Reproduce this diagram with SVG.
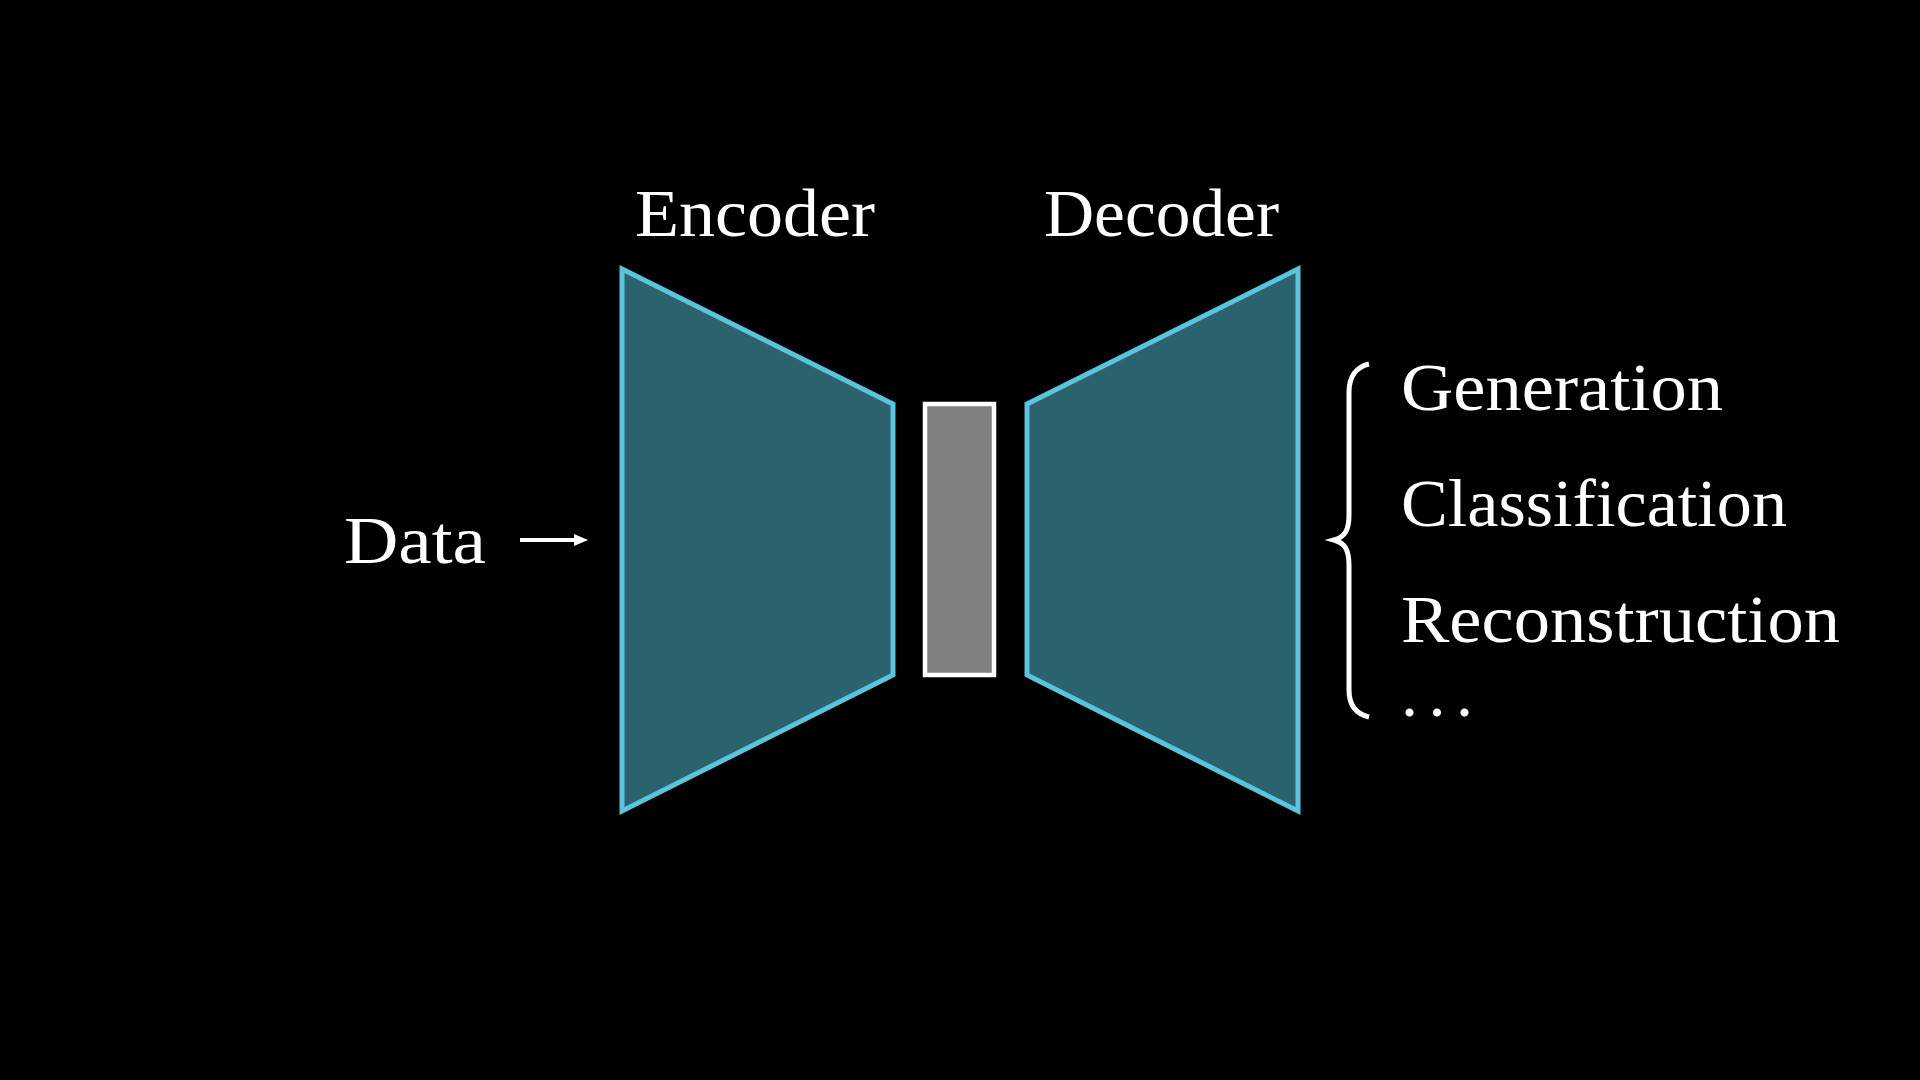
<svg xmlns="http://www.w3.org/2000/svg" width="1920" height="1080" viewBox="0 0 1920 1080">
  <defs>
    <style>
      .lbl { font-family: "Liberation Serif", "DejaVu Serif", serif; fill: #ffffff; font-size: 68px; }
      .trap { fill: #2c626e; stroke: #58c4dd; stroke-width: 5; stroke-linejoin: miter; }
      .latent { fill: #808080; stroke: #ffffff; stroke-width: 4.5; }
      .conn { stroke: #ffffff; stroke-width: 4; fill: none; }
    </style>
    <marker id="arrowhead" markerWidth="14" markerHeight="14" refX="0" refY="7" orient="auto" markerUnits="userSpaceOnUse" viewBox="0 0 14 14">
      <path d="M0,1 L14,7 L0,13 Z" fill="#ffffff"/>
    </marker>
  </defs>
  <rect x="0" y="0" width="1920" height="1080" fill="#000000"/>

  <g id="encoder">
    <polygon class="trap" points="622,269 893,404 893,675 622,811"/>
    <text class="lbl" x="635" y="236" textLength="240" lengthAdjust="spacingAndGlyphs">Encoder</text>
  </g>

  <g id="latent">
    <rect class="latent" x="925" y="404" width="69" height="271"/>
  </g>

  <g id="decoder">
    <polygon class="trap" points="1027,404 1298,269 1298,811 1027,675"/>
    <text class="lbl" x="1044" y="236" textLength="235" lengthAdjust="spacingAndGlyphs">Decoder</text>
  </g>

  <g id="data">
    <text class="lbl" x="344" y="563" textLength="142" lengthAdjust="spacingAndGlyphs">Data</text>
  </g>

  <g id="outputs">
    <path d="M1369,364 C1356,367 1349,377 1349,392 L1349,515 C1349,530 1345,537 1334,540 C1345,543 1349,550 1349,565 L1349,690 C1349,705 1356,714 1369,717" fill="none" stroke="#ffffff" stroke-width="5"/>
    <text class="lbl" x="1401" y="410" textLength="322" lengthAdjust="spacingAndGlyphs">Generation</text>
    <text class="lbl" x="1401" y="526" textLength="386" lengthAdjust="spacingAndGlyphs">Classification</text>
    <text class="lbl" x="1401" y="642" textLength="439" lengthAdjust="spacingAndGlyphs">Reconstruction</text>
    <text class="lbl" x="1401" y="716" textLength="72" lengthAdjust="spacing">...</text>
  </g>

  <g id="connectors">
    <line class="conn" x1="520" y1="540" x2="574" y2="540" marker-end="url(#arrowhead)"/>
  </g>
</svg>
